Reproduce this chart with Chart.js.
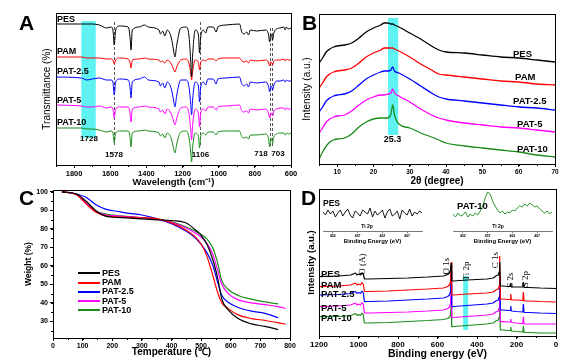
<!DOCTYPE html>
<html><head><meta charset="utf-8">
<script src="https://cdn.jsdelivr.net/npm/chart.js@4.4.1/dist/chart.umd.min.js"></script>
<style>
html,body{margin:0;padding:0;background:#fff;}
#wrap{position:relative;width:576px;height:364px;overflow:hidden;font-family:"Liberation Sans",Arial,sans-serif;color:#000;}
canvas{position:absolute;}
.lb{position:absolute;white-space:nowrap;line-height:1;}
.lg{position:absolute;height:2px;}
</style></head><body>
<div id="wrap">
<canvas id="cA" width="300" height="188" style="left:0;top:0;width:300px;height:188px"></canvas>
<canvas id="cB" width="286" height="187" style="left:290px;top:0;width:286px;height:187px"></canvas>
<canvas id="cC" width="300" height="178" style="left:0;top:180px;width:300px;height:178px"></canvas>
<canvas id="cD" width="286" height="180" style="left:290px;top:180px;width:286px;height:180px"></canvas>
<canvas id="cI1" width="110" height="49" style="left:318px;top:196px;width:110px;height:49px"></canvas>
<canvas id="cI2" width="110" height="61" style="left:448px;top:184px;width:110px;height:61px"></canvas>
</div>
<script>
// ---------------- DATA ----------------
const SERIES = ['PES', 'PAM', 'PAT-2.5', 'PAT-5', 'PAT-10'];
const COLORS = ['#000000', '#ff0000', '#0000ff', '#ff00ff', '#1a8c1a'];

// A: FTIR (transmittance, a.u., relative to each trace's baseline)
const FTIR_WN = [1900,1760,1728,1700,1660,1620,1595,1585,1578,1570,1550,1500,1490,1485,1478,1440,1410,1390,1330,1322,1310,1298,1285,1262,1250,1242,1232,1210,1180,1165,1155,1150,1144,1130,1112,1106,1100,1085,1072,1060,1030,1014,1005,960,885,872,860,845,835,825,790,740,725,718,712,706,702,695,680,660,640,632,625,615,600];
const FTIR_PES  = [0,0,0,0,-1,-4,-3,-6,-21,-6,-2,-3,-14,-26,-6,-3,-1,-3,-6,-10,-7,-12,-6,-14,-26,-33,-21,-4,-3,-11,-36,-53,-31,-6,-11,-29,-14,-6,-9,-3,-3,-8,-3,-1,0,-8,-10,-8,-11,-6,-7,-6,-10,-18,-10,-12,-16,-9,-5,-4,-3,-6,-3,-5,-4];
const FTIR_PAM  = [0,0,-1,-1,-1,-2,-2,-3,-7,-3,-1,-2,-6,-11,-3,-2,-1,-2,-3,-5,-4,-6,-3,-7,-12,-15,-10,-3,-2,-6,-16,-23,-14,-3,-5,-13,-6,-3,-4,-2,-2,-4,-2,-1,-1,-4,-5,-4,-6,-3,-4,-3,-5,-9,-5,-6,-8,-4,-3,-3,-2,-4,-2,-3,-3];
const FTIR_PAT25 = [0,-1,-3,-2,-1,-3,-3,-5,-18,-5,-2,-3,-11,-21,-5,-2,0,-3,-5,-9,-6,-11,-5,-12,-23,-30,-18,-3,-3,-9,-26,-38,-22,-5,-9,-25,-11,-5,-8,-2,-2,-7,-2,-1,0,-7,-9,-7,-10,-5,-6,-5,-9,-15,-9,-10,-13,-8,-4,-4,-3,-5,-3,-4,-4];
const FTIR_PAT5 = [0,-1,-2,-2,-1,-3,-2,-4,-13,-4,-2,-2,-9,-17,-4,-2,-1,-2,-4,-7,-5,-9,-4,-9,-16,-20,-13,-3,-2,-8,-24,-35,-20,-4,-8,-22,-9,-4,-6,-2,-2,-5,-2,-1,0,-6,-7,-6,-8,-4,-5,-4,-8,-13,-8,-9,-11,-6,-4,-3,-3,-5,-3,-4,-4];
const FTIR_PAT10 = [0,0,-1,-1,-2,-4,-3,-5,-15,-5,-3,-3,-10,-19,-5,-3,-2,-3,-5,-8,-6,-10,-5,-11,-20,-25,-16,-4,-3,-9,-24,-34,-19,-5,-8,-20,-9,-5,-7,-4,-4,-7,-4,-3,-3,-9,-10,-9,-11,-7,-7,-6,-10,-19,-10,-12,-15,-9,-6,-5,-5,-7,-5,-6,-5];
const FTIR_OFFSET = [141, 108, 88, 60, 37];
const FTIR_TICKS = [1800, 1600, 1400, 1200, 1000, 800, 600];
const FTIR_MARKS = [1578, 1106, 718, 703];
const FTIR_BAND = [1760, 1680, 1728];

// B: XRD (intensity, a.u.)
const XRD_2T = [5,6,7,8,9,10,12,14,16,18,20,22,23,24,24.8,25.3,25.8,27,30,33,36,38,40,45,50,55,60,65,70];
const XRD_PES  = [101,106,112,115,117,118,119,121,126,132,136,139,141,141,140,140,139,137,131,125,118,114,112,111,109,107,106,104,102];
const XRD_PAM  = [76,81,87,90,92,93,94,96,101,107,111,114,116,116,116,116,115,113,107,100,94,90,89,87,85,83,82,80,79];
const XRD_PAT25 = [52,57,63,66,68,69,70,73,79,85,89,92,93,93,94,97,93,91,85,78,71,67,65,63,61,59,57,56,54];
const XRD_PAT5 = [31,36,42,45,47,48,49,53,59,64,67,69,69,70,71,75,71,68,62,55,49,46,44,41,39,37,36,34,32];
const XRD_PAT10 = [5,12,18,22,24,25,26,30,37,42,45,46,46,46,50,59,49,40,36,31,27,24,21,18,16,14,12,9,7];
const XRD_TICKS = [10, 20, 30, 40, 50, 60, 70];
const XRD_BAND = [24, 26.8, 25.3];

// C: TGA (weight %)
const TGA_T = [30,80,110,145,180,215,250,300,350,400,450,480,500,520,540,555,570,590,625,670,715,760,785];
const TGA_PES  = [100,98.8,95.2,89.8,86.7,86.2,85.9,85.4,84.9,84.5,83.2,79.5,76.5,71.5,63,54,42,36.5,31.5,28.6,27.3,25.6,null];
const TGA_PAM  = [100,98.5,93.8,89,87,86.5,86.3,86,85.5,83.2,79.3,75.7,71.8,65,54.5,46,40,37,33.5,31.5,30.5,29.3,28.4];
const TGA_PAT25 = [100,98.8,97.2,93,90.5,89.5,88.5,87.5,85.5,82.8,78.7,75.2,71.6,67,60,51.5,44,40.5,37.5,35.5,34.3,32,null];
const TGA_PAT5 = [100,98.5,94.2,89.5,87.5,87,86.6,86,85.2,83.5,80.5,77.8,75.5,72,66,58,50,45.3,41.6,40,39,38,37];
const TGA_PAT10 = [100,98.5,94.2,89.5,88,87.2,86.7,86,85.2,83.8,81,78.8,77,74.5,69.5,62,52,47.5,44,42,40.5,39.4,null];
const TGA_XTICKS = [0, 100, 200, 300, 400, 500, 600, 700, 800];
const TGA_YTICKS = [30, 40, 50, 60, 70, 80, 90, 100];

// D: XPS survey (intensity, a.u.)
const XPS_BE = [1200,1100,1040,1015,1008,1000,990,982,976,970,950,850,750,650,570,548,540,534,531,528,520,450,350,318,305,292,288,285,282,270,240,232,229,226,200,168,165,162,140,80,0];
const XPS_PES  = [59.3,60,61,63,61,62,61,63.5,62,57,57,57.5,58,59,60,61.5,63,66,73,55,55,56,57,58,60,61,64,74,50,50,49.5,49.5,53,49,49,49,54,48.5,48.5,48,47.5];
const XPS_PAM  = [49.3,50,51,53,51,52,51,53.5,52,44.5,44.5,45,46,47,48,49.5,51,54,74,41,41,42,43,44,46,47,50,80,37,37,36.5,36.5,42,36,36,35.5,44,35,35,34.5,34];
const XPS_PAT25 = [41,41.5,42.5,44.5,42.5,43.5,42.5,45,43.5,34.3,34.5,35,36,37,38,39.5,41,44,64,29.3,29.5,30.5,32,33,35,36,39,64,26,26,25.5,25.5,30,25,24.5,24,32,23.5,23.5,23,22.5];
const XPS_PAT5 = [29.3,30,31,33,31,32,31,33.5,32,23,23,23.5,24,25,26,27.5,29,32,51,18.3,18.5,19.5,21,22,24,25,28,50,14.3,14.3,14,14,17,13.5,13,12.5,19.3,12,12,12,12];
const XPS_PAT10 = [19.3,19.5,20.5,22.5,20.5,21.5,20.5,23,21.5,13,13,13.5,14.5,15.5,16.5,17.5,18.5,21,30,9.3,9.5,10.5,12,13,15,16,19,53,6,6,5.5,5.5,9,5,4.5,4,10,3.5,3.5,3,3];
const XPS_TICKS = [1200, 1000, 800, 600, 400, 200, 0];
const XPS_PEAKS = ['O (A)', 'O 1s', 'Ti 2p', 'C 1s', 'S 2s', 'S 2p'];
const XPS_TI_BAND = [470, 445];

// D insets: Ti 2p high-resolution
const TI_BE = [450,450.5,451,451.5,452,452.5,453,453.5,454,454.5,455,455.5,456,456.5,457,457.5,458,458.5,459,459.5,460,460.5,461,461.5,462,462.5,463,463.5,464,464.5,465,465.5,466,466.5,467,467.5,468,468.5,469,469.5,470];
const TI_PES   = [1,-2,3,-1,2,-4,0,3,-3,1,4,-2,-5,2,0,-3,3,1,-1,5,-4,2,-2,0,3,-5,1,4,-3,-1,2,-6,3,0,-2,4,-3,1,-1,2,0];
const TI_PAT10 = [1,-2,2,-1,0,3,-2,1,-1,2,0,4,9,17,23,21,14,9,5,2,4,1,3,2,5,4,7,9,8,11,9,12,10,8,9,6,4,2,4,1,3];
const TI_TICKS = [452, 457, 462, 467];

// ---------------- STYLE / HELPERS ----------------
const FONT = '"Liberation Sans", Arial, sans-serif';
const SERIF = '"Liberation Serif", "DejaVu Serif", serif';
const CYAN = '#5ff2f2';
Chart.defaults.font.family = FONT;
Chart.defaults.color = '#000';

const deco = {
  id: 'deco',
  beforeDatasetsDraw(chart, args, o) {
    const {ctx, scales: {x, y}} = chart;
    (o.bands || []).forEach(b => {
      const xa = x.getPixelForValue(b.x0), xb = x.getPixelForValue(b.x1);
      const ya = y.getPixelForValue(b.y0), yb = y.getPixelForValue(b.y1);
      ctx.save(); ctx.fillStyle = CYAN;
      ctx.fillRect(Math.min(xa, xb), Math.min(ya, yb), Math.abs(xb - xa), Math.abs(yb - ya));
      ctx.restore();
    });
    (o.vlines || []).forEach(l => {
      const px = Math.round(x.getPixelForValue(l.x)) + 0.5;
      ctx.save(); ctx.strokeStyle = '#555'; ctx.lineWidth = 1; ctx.setLineDash([3, 2]);
      ctx.beginPath(); ctx.moveTo(px, y.getPixelForValue(l.y0)); ctx.lineTo(px, y.getPixelForValue(l.y1)); ctx.stroke();
      ctx.restore();
    });
  },
  afterDraw(chart, args, o) {
    const {ctx, chartArea: a, scales: {x, y}} = chart;
    ctx.save(); ctx.strokeStyle = '#000'; ctx.lineWidth = 1;
    if (o.frame) {
      ctx.strokeRect(Math.round(a.left) + 0.5, Math.round(a.top) + 0.5, Math.round(a.right - a.left), Math.round(a.bottom - a.top));
    }
    if (o.minorX) {
      const lo = Math.min(x.min, x.max), hi = Math.max(x.min, x.max);
      ctx.beginPath();
      for (let v = Math.ceil(lo / o.minorX) * o.minorX; v <= hi; v += o.minorX) {
        const p = Math.round(x.getPixelForValue(v)) + 0.5;
        ctx.moveTo(p, a.bottom); ctx.lineTo(p, a.bottom + 2);
      }
      ctx.stroke();
    }
    if (o.minorY) {
      ctx.beginPath();
      for (let v = Math.ceil(y.min / o.minorY) * o.minorY; v <= y.max; v += o.minorY) {
        const p = Math.round(y.getPixelForValue(v)) + 0.5;
        ctx.moveTo(a.left, p); ctx.lineTo(a.left - 2, p);
      }
      ctx.stroke();
    }
    ctx.restore();
  }
};

function ds(label, color, xs, ys, off, extra) {
  return Object.assign({
    label, borderColor: color, backgroundColor: color, borderWidth: 1, pointRadius: 0,
    fill: false, tension: 0, borderJoinStyle: 'bevel',
    data: xs.map((x, i) => ({x, y: ys[i] == null ? null : ys[i] + (off || 0)}))
  }, extra || {});
}

const plain = v => String(v);
function xAxis(o) {
  return {
    type: 'linear', min: o.min, max: o.max, reverse: !!o.reverse,
    afterBuildTicks: s => { s.ticks = o.ticks.map(v => ({value: v})); },
    afterFit: s => { s.height = o.h; },
    ticks: {callback: plain, font: {size: o.fs, weight: 'bold'}, color: o.tc || '#000', padding: o.pad == null ? 1 : o.pad, maxRotation: 0, autoSkip: false},
    grid: {display: true, drawOnChartArea: false, drawTicks: true, tickLength: o.tl || 3, color: o.gc || '#000', lineWidth: o.lw || 1},
    border: {display: !!o.border, color: o.gc || '#000', width: o.lw || 1},
    title: {display: true, text: o.title, font: {size: o.tfs, weight: 'bold'}, color: '#000', padding: 0}
  };
}
function yAxis(o) {
  const showTicks = !!o.ticks;
  return {
    type: 'linear', min: o.min, max: o.max, display: o.display !== false,
    afterBuildTicks: s => { if (o.ticks) s.ticks = o.ticks.map(v => ({value: v})); },
    afterFit: s => { s.width = o.w; },
    ticks: {display: showTicks, callback: plain, font: {size: o.fs || 7, weight: 'bold'}, padding: 2, autoSkip: false},
    grid: {display: showTicks, drawOnChartArea: false, drawTicks: true, tickLength: 3, color: '#000'},
    border: {display: false},
    title: {display: !!o.title, text: o.title, font: {size: o.tfs, weight: o.tw || 'bold'}, color: '#000', padding: 0}
  };
}
function make(id, datasets, x, y, padding, decoOpts) {
  return new Chart(document.getElementById(id), {
    type: 'line',
    data: {datasets},
    options: {
      responsive: false, animation: false, events: [],
      layout: {padding},
      scales: {x, y},
      plugins: {legend: {display: false}, tooltip: {enabled: false}, deco: decoOpts || {}}
    },
    plugins: [deco]
  });
}

// ---------------- CHARTS ----------------
// A
const ftir = [FTIR_PES, FTIR_PAM, FTIR_PAT25, FTIR_PAT5, FTIR_PAT10];
make('cA',
  ftir.map((s, i) => ds(SERIES[i], COLORS[i], FTIR_WN, s, FTIR_OFFSET[i], {cubicInterpolationMode: 'monotone'})),
  xAxis({min: 600, max: 1900, reverse: true, ticks: FTIR_TICKS, h: 23, fs: 7.5, title: 'Wavelength (cm\u207B\u00B9)', tfs: 9.5}),
  yAxis({min: 0, max: 152, w: 15, title: 'Transmittance (%)', tfs: 10, tw: 'normal'}),
  {left: 41, top: 13, right: 9, bottom: 0},
  {frame: true, minorX: 100,
   bands: [{x0: FTIR_BAND[0], x1: FTIR_BAND[1], y0: 144, y1: 27}],
   vlines: FTIR_MARKS.map((m, i) => ({x: m, y0: i < 2 ? 143 : 137, y1: i < 2 ? 19 : 18}))});

// B
const xrd = [XRD_PES, XRD_PAM, XRD_PAT25, XRD_PAT5, XRD_PAT10];
make('cB',
  xrd.map((s, i) => ds(SERIES[i], COLORS[i], XRD_2T, s, 0, {borderWidth: 1.3, cubicInterpolationMode: 'monotone'})),
  xAxis({min: 5, max: 70, ticks: XRD_TICKS, h: 23, fs: 6.5, title: '2\u03B8 (degree)', tfs: 10}),
  yAxis({min: 0, max: 150, w: 18, title: 'Intensity (a.u.)', tfs: 10, tw: 'normal'}),
  {left: 11, top: 14, right: 21, bottom: 0},
  {frame: true, minorX: 5, bands: [{x0: XRD_BAND[0], x1: XRD_BAND[1], y0: 146, y1: 29}]});

// C
const tga = [TGA_PES, TGA_PAM, TGA_PAT25, TGA_PAT5, TGA_PAT10];
make('cC',
  tga.map((s, i) => ds(SERIES[i], COLORS[i], TGA_T, s, 0, {borderWidth: 1.2, cubicInterpolationMode: 'monotone'})),
  xAxis({min: 0, max: 800, ticks: TGA_XTICKS, h: 20, fs: 7, title: 'Temperature (\u2103)', tfs: 10}),
  yAxis({min: 21, max: 101, ticks: TGA_YTICKS, fs: 7, w: 29, title: 'Weight (%)', tfs: 8.5}),
  {left: 24, top: 10, right: 10, bottom: 0},
  {frame: true, minorX: 50, minorY: 5});

// D
const xps = [XPS_PES, XPS_PAM, XPS_PAT25, XPS_PAT5, XPS_PAT10];
make('cD',
  xps.map((s, i) => ds(SERIES[i], COLORS[i], XPS_BE, s, 0, {borderWidth: 1.2})),
  xAxis({min: 0, max: 1200, reverse: true, ticks: XPS_TICKS, h: 24, fs: 8, title: 'Binding energy (eV)', tfs: 10.5}),
  yAxis({min: 0, max: 147, w: 13, title: 'Intensity (a.u.)', tfs: 9.5, tw: 'bold'}),
  {left: 16, top: 9, right: 20, bottom: 0},
  {frame: true, minorX: 100, bands: [{x0: XPS_TI_BAND[0], x1: XPS_TI_BAND[1], y0: 60, y1: 6}]});

// D insets
const insetX = () => xAxis({min: 450, max: 470, ticks: TI_TICKS, h: 14, fs: 3.5, tl: 2, pad: 0.5, gc: '#555', lw: 0.8, border: true, title: 'Binding Energy (eV)', tfs: 6});
make('cI1', [ds('PES', COLORS[0], TI_BE, TI_PES, 0, {borderWidth: 0.9})],
  insetX(), yAxis({min: -18, max: 17, display: false, w: 0}), {left: 5, top: 0, right: 6, bottom: 0}, {});
make('cI2', [ds('PAT-10', COLORS[4], TI_BE, TI_PAT10, 0, {borderWidth: 0.9})],
  insetX(), yAxis({min: -16, max: 31, display: false, w: 0}), {left: 5, top: 0, right: 6, bottom: 0}, {});

// ---------------- TEXT OVERLAYS ----------------
const wrap = document.getElementById('wrap');
function put(t, x, base, size, weight, opt) {
  opt = opt || {};
  const d = document.createElement('div');
  d.className = 'lb'; d.textContent = t;
  d.style.fontSize = size + 'px'; d.style.fontWeight = weight;
  if (opt.fam) d.style.fontFamily = opt.fam;
  if (opt.color) d.style.color = opt.color;
  if (opt.rot) {
    d.style.left = x + 'px'; d.style.top = base + 'px';
    d.style.transform = 'translate(-50%,-50%) rotate(-90deg)';
  } else {
    d.style.left = x + 'px'; d.style.top = (base - 0.8465 * size) + 'px';
    if (opt.center) d.style.transform = 'translateX(-50%)';
  }
  wrap.appendChild(d);
}
// panel letters
[['A', 19, 30], ['B', 302, 30], ['C', 19, 205], ['D', 301, 205]].forEach(p => put(p[0], p[1], p[2], 21, 'bold'));
// A labels
const A_POS = [[57, 22.5], [57, 55], [57, 75], [57, 103.5], [57, 126]];
SERIES.forEach((s, i) => put(s, A_POS[i][0], A_POS[i][1], 9, 'bold'));
put(String(FTIR_BAND[2]), 89, 141.5, 8, 'bold', {center: true});
const A_MARK_POS = [[114, 158], [200.5, 158], [261, 156.5], [278, 156.5]];
FTIR_MARKS.forEach((m, i) => put(String(m), A_MARK_POS[i][0], A_MARK_POS[i][1], 8, 'bold', {center: true}));
// B labels
const B_POS = [[513, 57], [515, 80.5], [513, 104], [517, 127], [517, 152.5]];
SERIES.forEach((s, i) => put(s, B_POS[i][0], B_POS[i][1], 9.5, 'bold'));
put(String(XRD_BAND[2]), 392.5, 142.5, 9, 'bold', {center: true});
// C legend
const C_LEG = [276.5, 286, 295, 304.5, 313.5];
SERIES.forEach((s, i) => {
  const l = document.createElement('div'); l.className = 'lg';
  l.style.left = '78px'; l.style.width = '22px'; l.style.top = (C_LEG[i] - 4.5) + 'px'; l.style.background = COLORS[i];
  wrap.appendChild(l);
  put(s, 102, C_LEG[i], 9, 'bold');
});
// D labels
const D_POS = [[321, 277.5], [321, 288.5], [321, 297.5], [321, 311], [321, 321]];
SERIES.forEach((s, i) => put(s, D_POS[i][0], D_POS[i][1], 9.5, 'bold'));
const D_PEAK_POS = [[362, 264], [446, 266], [466, 271], [495, 260], [510, 280], [525, 279]];
XPS_PEAKS.forEach((t, i) => put(t, D_PEAK_POS[i][0], D_PEAK_POS[i][1], 9, 'normal', {rot: true, fam: SERIF}));
// insets
put('PES', 323, 206.5, 8.5, 'bold');
put('PAT-10', 457, 209, 9.5, 'bold');
put('Ti 2p', 367, 228, 5, 'bold', {center: true});
put('Ti 2p', 498, 228, 5, 'bold', {center: true});
</script>
</body></html>
